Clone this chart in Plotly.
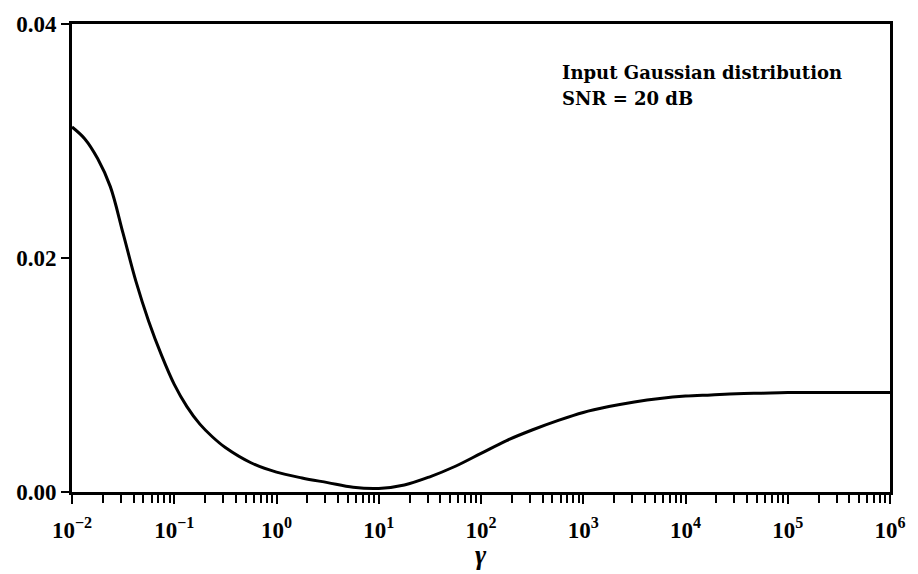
import plotly.graph_objects as go

# data
gamma = [0.01, 0.0133, 0.0178, 0.0237, 0.0316, 0.0422, 0.0562, 0.075, 0.1, 0.133,
         0.178, 0.237, 0.316, 0.562, 1, 1.78, 3.16, 5.62, 10, 17.8, 31.6, 56.2, 100,
         178, 316, 562, 1000, 1780, 3160, 5620, 10000, 17800, 31600, 56200, 100000,
         316000, 1000000]
value = [0.0312, 0.0302, 0.0285, 0.0261, 0.0221, 0.0180, 0.0146, 0.0117, 0.0092,
         0.0073, 0.0058, 0.0047, 0.0038, 0.0025, 0.0017, 0.0012, 0.0008, 0.0004,
         0.0003, 0.0006, 0.0013, 0.0022, 0.0033, 0.0044, 0.0053, 0.0061, 0.0068,
         0.0073, 0.0077, 0.0080, 0.0082, 0.0083, 0.0084, 0.00845, 0.0085, 0.0085,
         0.0085]

x_tickvals = [1e-2, 1e-1, 1e0, 1e1, 1e2, 1e3, 1e4, 1e5, 1e6]
x_ticktext = ["10<sup>−2</sup>", "10<sup>−1</sup>", "10<sup>0</sup>", "10<sup>1</sup>",
              "10<sup>2</sup>", "10<sup>3</sup>", "10<sup>4</sup>", "10<sup>5</sup>",
              "10<sup>6</sup>"]
y_tickvals = [0.0, 0.02, 0.04]
y_ticktext = ["0.00", "0.02", "0.04"]
annotation_lines = ["Input Gaussian distribution", "SNR = 20 dB"]
x_label = "γ"

minor_vals = [m * 10.0 ** e for e in range(-2, 6) for m in range(2, 10)]

tick_font = dict(family="Liberation Serif", size=23, color="black", weight="bold")

fig = go.Figure()
fig.add_trace(go.Scatter(x=gamma, y=value, mode="lines",
                         line=dict(color="black", width=3, shape="spline", smoothing=1.0),
                         showlegend=False, hoverinfo="skip"))

fig.update_xaxes(type="log", range=[-2, 6], tickmode="array", tickvals=x_tickvals,
                 ticktext=x_ticktext, ticks="outside", ticklen=9, tickwidth=2,
                 tickcolor="black", showline=True, linecolor="black", linewidth=3,
                 mirror=True, showgrid=False, zeroline=False, tickfont=tick_font,
                 ticklabelstandoff=6,
                 minor=dict(tickmode="array", tickvals=minor_vals, ticks="outside",
                            ticklen=8, tickwidth=2, tickcolor="black", showgrid=False))
fig.update_yaxes(range=[0, 0.04], tickmode="array", tickvals=y_tickvals,
                 ticktext=y_ticktext, ticks="outside", ticklen=8, tickwidth=2,
                 tickcolor="black", showline=True, linecolor="black", linewidth=3,
                 mirror=True, showgrid=False, zeroline=False, tickfont=tick_font)

ann_font = dict(family="DejaVu Serif", size=18, color="black", weight="bold")
for i, line in enumerate(annotation_lines):
    fig.add_annotation(x=0.597, y=0.897 - 0.056 * i, xref="paper", yref="paper",
                       xanchor="left", yanchor="middle", align="left",
                       showarrow=False, text=line, font=ann_font)

fig.add_annotation(x=0.5, y=-0.1352, xref="paper", yref="paper", xanchor="center",
                   yanchor="middle", showarrow=False, borderpad=0,
                   text="<b><i>" + x_label + "</i></b>",
                   font=dict(family="Liberation Serif", size=27, color="black"))

fig.update_layout(width=918, height=574, paper_bgcolor="white", plot_bgcolor="white",
                  margin=dict(l=72, r=23, t=15, b=82))

fig.write_html("out.html")
